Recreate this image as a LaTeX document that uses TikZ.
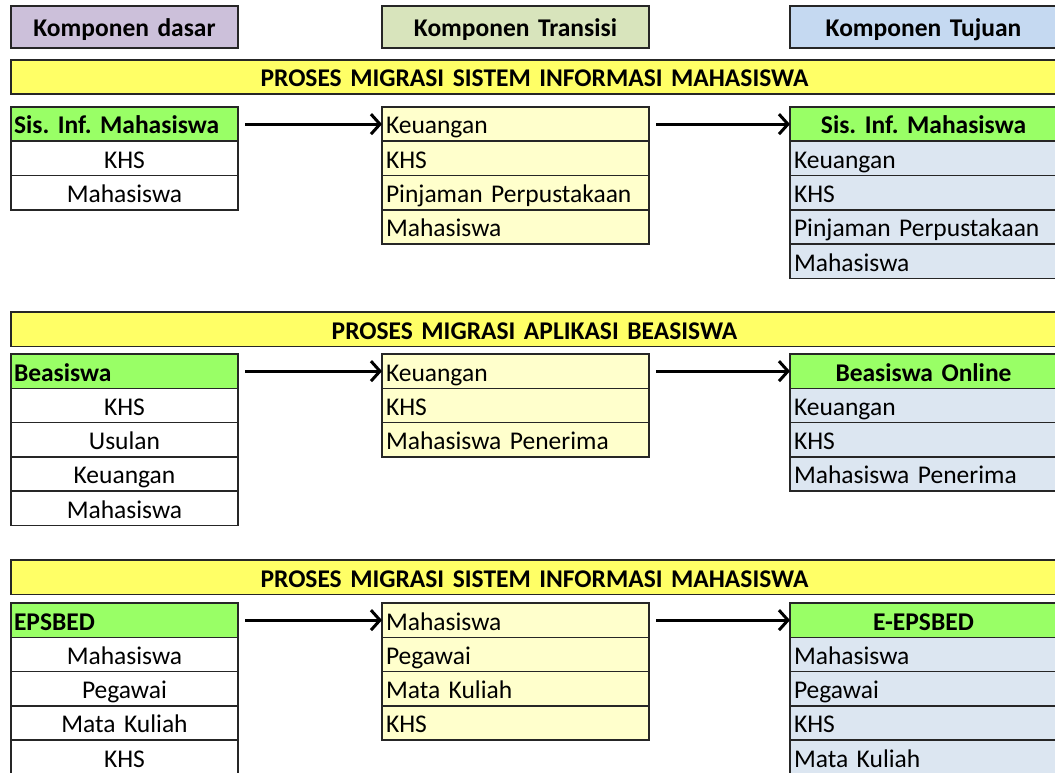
\documentclass[tikz,border=0pt]{standalone}
\usepackage{fontspec}
\setmainfont{Carlito}
\usetikzlibrary{arrows.meta,positioning}
\definecolor{dasarbg}{HTML}{CCC0DA}
\definecolor{transbg}{HTML}{D8E4BC}
\definecolor{tujuanbg}{HTML}{C5D9F1}
\definecolor{bannerbg}{HTML}{FFFF66}
\definecolor{judulbg}{HTML}{99FF66}
\definecolor{midbg}{HTML}{FFFFCC}
\definecolor{dstbg}{HTML}{DCE6F1}
\definecolor{garis}{HTML}{262626}
\newcommand{\sel}{\fontsize{25.5}{28}\selectfont\frenchspacing}

\begin{document}
\begin{tikzpicture}[x=1pt, y=-1pt,
      base/.style={draw=garis, line width=1.6pt, outer sep=0pt, inner xsep=4pt, inner ysep=0pt,
        anchor=north west, font=\sel, text height=22pt, text depth=2.3pt},
      kolom/.style={base, minimum height=42pt, font=\sel\bfseries,
        align=center, text width=#1-8pt},
      banner/.style={base, fill=bannerbg, minimum height=34.3pt, text width=1039pt,
        align=center, font=\sel\bfseries},
      srchead/.style={base, fill=judulbg, minimum height=34.3pt, text width=221pt, align=left,
        inner xsep=3pt, font=\sel\bfseries},
      srccell/.style={base, fill=white, minimum height=34.3pt, text width=219pt, align=center},
      midcell/.style={base, fill=midbg, minimum height=34.3pt, text width=259pt, align=left},
      dsthead/.style={base, fill=judulbg, minimum height=34.3pt, text width=259pt, align=center,
        font=\sel\bfseries},
      dstcell/.style={base, fill=dstbg, minimum height=34.3pt, text width=259pt, align=left},
      arr/.style={-{Straight Barb[length=9pt,width=20pt]}, line width=3pt, shorten <=7pt}]
    \useasboundingbox (0,0) rectangle (1055,773);
    \clip (0,0) rectangle (1055,773);
    \fill[white] (0,0) rectangle (1055,773);

    % column titles
    \node[kolom=227pt, fill=dasarbg] (dasar) at (11,6) {Komponen dasar};
    \node[kolom=267pt, fill=transbg] (transisi) at (382,6) {Komponen Transisi};
    \node[kolom=267pt, fill=tujuanbg] (tujuan) at (790,6) {Komponen Tujuan};

    % migrasi sistem informasi mahasiswa
    \node[banner] (ban1) at (11,60) {PROSES MIGRASI SISTEM INFORMASI MAHASISWA};
    \node[srchead] (asal1) at (11,107) {Sis. Inf. Mahasiswa};
    \foreach \t [count=\i] in {KHS,Mahasiswa}
      \node[srccell] (asal1-\i) at (11,{107+34.3*\i}) {\t};
    \foreach \t [count=\i from 0] in {Keuangan,KHS,Pinjaman Perpustakaan,Mahasiswa}
      \node[midcell] (trans1-\i) at (382,{107+34.3*\i}) {\t};
    \node[dsthead] (tuju1) at (790,107) {Sis. Inf. Mahasiswa};
    \foreach \t [count=\i] in {Keuangan,KHS,Pinjaman Perpustakaan,Mahasiswa}
      \node[dstcell] (tuju1-\i) at (790,{107+34.3*\i}) {\t};
    \draw[arr] (asal1.east) -- (trans1-0.west);
    \draw[arr] (trans1-0.east) -- (tuju1.west);

    % migrasi aplikasi beasiswa
    \node[banner] (ban2) at (11,312) {PROSES MIGRASI APLIKASI BEASISWA};
    \node[srchead] (asal2) at (11,354) {Beasiswa};
    \foreach \t [count=\i] in {KHS,Usulan,Keuangan,Mahasiswa}
      \node[srccell] (asal2-\i) at (11,{354+34.3*\i}) {\t};
    \foreach \t [count=\i from 0] in {Keuangan,KHS,Mahasiswa Penerima}
      \node[midcell] (trans2-\i) at (382,{354+34.3*\i}) {\t};
    \node[dsthead] (tuju2) at (790,354) {Beasiswa Online};
    \foreach \t [count=\i] in {Keuangan,KHS,Mahasiswa Penerima}
      \node[dstcell] (tuju2-\i) at (790,{354+34.3*\i}) {\t};
    \draw[arr] (asal2.east) -- (trans2-0.west);
    \draw[arr] (trans2-0.east) -- (tuju2.west);

    % migrasi epsbed
    \node[banner] (ban3) at (11,560) {PROSES MIGRASI SISTEM INFORMASI MAHASISWA};
    \node[srchead] (asal3) at (11,603) {EPSBED};
    \foreach \t [count=\i] in {Mahasiswa,Pegawai,Mata Kuliah,KHS}
      \node[srccell] (asal3-\i) at (11,{603+34.3*\i}) {\t};
    \foreach \t [count=\i from 0] in {Mahasiswa,Pegawai,Mata Kuliah,KHS}
      \node[midcell] (trans3-\i) at (382,{603+34.3*\i}) {\t};
    \node[dsthead] (tuju3) at (790,603) {E-EPSBED};
    \foreach \t [count=\i] in {Mahasiswa,Pegawai,KHS,Mata Kuliah}
      \node[dstcell] (tuju3-\i) at (790,{603+34.3*\i}) {\t};
    \draw[arr] (asal3.east) -- (trans3-0.west);
    \draw[arr] (trans3-0.east) -- (tuju3.west);
  \end{tikzpicture}
\end{document}
